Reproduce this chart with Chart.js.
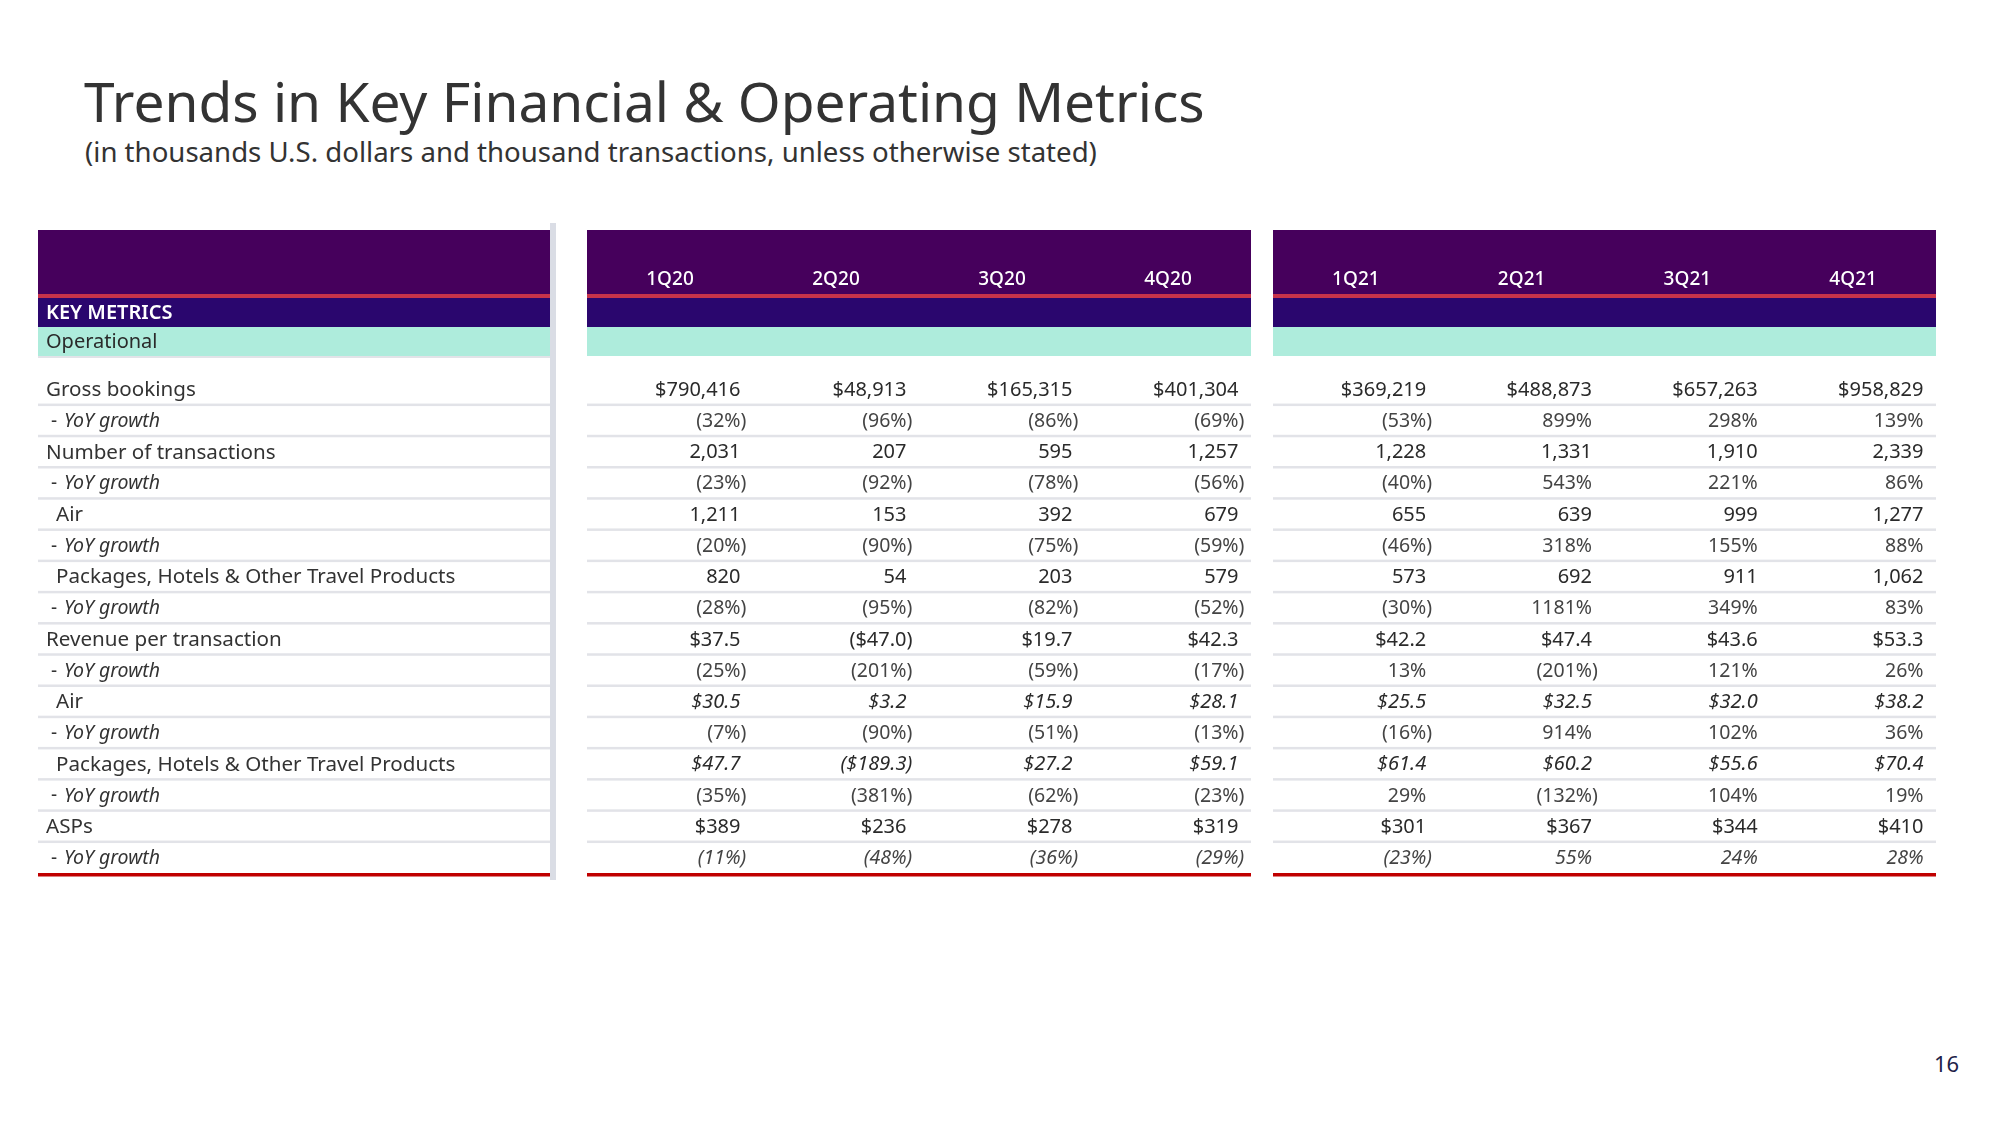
<!DOCTYPE html>
<html lang="en">
<head>
    <meta charset="UTF-8">
    <title>Trends in Key Financial &amp; Operating Metrics</title>
    <style>
        body {
            margin: 0;
            width: 2000px;
            height: 1125px;
            position: relative;
            overflow: hidden;
            background: #fff;
            font-family: "Noto Sans", Arial, sans-serif;
            color: #333;
        }
        h1 {
            position: absolute;
            left: 84px;
            top: 74px;
            margin: 0;
            font-size: 55px;
            line-height: 54px;
            font-weight: 400;
            color: #333;
            white-space: nowrap;
        }
        .subtitle {
            position: absolute;
            left: 85px;
            top: 137px;
            font-size: 27.6px;
            line-height: 28px;
            color: #333;
            white-space: nowrap;
        }
        .page-num {
            position: absolute;
            left: 1934px;
            top: 1050px;
            font-size: 22px;
            line-height: 26px;
            color: #1f1f4a;
        }
        canvas {
            position: absolute;
            top: 220px;
        }
    </style>
</head>
<body>
    <h1>Trends in Key Financial &amp; Operating Metrics</h1>
    <div class="subtitle">(in thousands U.S. dollars and thousand transactions, unless otherwise stated)</div>

    <canvas id="labelPanel" width="520" height="665" style="left:38px"></canvas>
    <canvas id="panel2020" width="664" height="665" style="left:587px"></canvas>
    <canvas id="panel2021" width="663" height="665" style="left:1273px"></canvas>

    <div class="page-num">16</div>

    <script src="https://cdn.jsdelivr.net/npm/chart.js"></script>
    <script>
        // table data
        const quarters2020 = ['1Q20', '2Q20', '3Q20', '4Q20'];
        const quarters2021 = ['1Q21', '2Q21', '3Q21', '4Q21'];

        const rowLabels = [
            'Gross bookings', '- YoY growth',
            'Number of transactions', '- YoY growth',
            'Air', '- YoY growth',
            'Packages, Hotels & Other Travel Products', '- YoY growth',
            'Revenue per transaction', '- YoY growth',
            'Air', '- YoY growth',
            'Packages, Hotels & Other Travel Products', '- YoY growth',
            'ASPs', '- YoY growth'
        ];

        // 1Q20 .. 4Q21
        const grossBookings = [790416, 48913, 165315, 401304, 369219, 488873, 657263, 958829];
        const grossBookingsYoY = [-32, -96, -86, -69, -53, 899, 298, 139];
        const transactions = [2031, 207, 595, 1257, 1228, 1331, 1910, 2339];
        const transactionsYoY = [-23, -92, -78, -56, -40, 543, 221, 86];
        const airTransactions = [1211, 153, 392, 679, 655, 639, 999, 1277];
        const airTransactionsYoY = [-20, -90, -75, -59, -46, 318, 155, 88];
        const packageTransactions = [820, 54, 203, 579, 573, 692, 911, 1062];
        const packageTransactionsYoY = [-28, -95, -82, -52, -30, 1181, 349, 83];
        const revenuePerTx = [37.5, -47.0, 19.7, 42.3, 42.2, 47.4, 43.6, 53.3];
        const revenuePerTxYoY = [-25, -201, -59, -17, 13, -201, 121, 26];
        const airRevenuePerTx = [30.5, 3.2, 15.9, 28.1, 25.5, 32.5, 32.0, 38.2];
        const airRevenuePerTxYoY = [-7, -90, -51, -13, -16, 914, 102, 36];
        const packageRevenuePerTx = [47.7, -189.3, 27.2, 59.1, 61.4, 60.2, 55.6, 70.4];
        const packageRevenuePerTxYoY = [-35, -381, -62, -23, 29, -132, 104, 19];
        const asps = [389, 236, 278, 319, 301, 367, 344, 410];
        const aspsYoY = [-11, -48, -36, -29, -23, 55, 24, 28];

        const rowSeries = [
            grossBookings, grossBookingsYoY,
            transactions, transactionsYoY,
            airTransactions, airTransactionsYoY,
            packageTransactions, packageTransactionsYoY,
            revenuePerTx, revenuePerTxYoY,
            airRevenuePerTx, airRevenuePerTxYoY,
            packageRevenuePerTx, packageRevenuePerTxYoY,
            asps, aspsYoY
        ];
        const rowFormats = ['usd', 'pct', 'int', 'pct', 'int', 'pct', 'int', 'pct',
                            'usd1', 'pct', 'usd1', 'pct', 'usd1', 'pct', 'usd', 'pct'];

        // styling
        const FONT = '"Noto Sans", Arial, sans-serif';
        const PURPLE = '#46005c';
        const RED_TOP = '#c8334a';
        const NAVY = '#2a066e';
        const TEAL = '#aeecdc';
        const LINE = '#e2e3e8';
        const RED_BOTTOM = '#c00000';
        const indented = new Set(['Air', 'Packages, Hotels & Other Travel Products']);
        const italicRows = new Set([10, 12, 15]);

        function fmt(v, kind) {
            const a = Math.abs(v);
            let s;
            if (kind === 'usd') s = '$' + a.toLocaleString('en-US');
            else if (kind === 'usd1') s = '$' + a.toFixed(1);
            else if (kind === 'int') s = a.toLocaleString('en-US');
            else s = a + '%';
            return v < 0 ? '(' + s + ')' : s;
        }

        function bandCenter(ys, i) {
            const top = ys.getPixelForValue(Math.max(i - 0.5, ys.min));
            const bottom = ys.getPixelForValue(i + 0.5);
            return (top + bottom) / 2;
        }

        const tablePlugin = {
            id: 'table',
            beforeDraw(chart) {
                const ctx = chart.ctx;
                const ca = chart.chartArea;
                const opts = chart.options.plugins.table;
                const top = ca.top - 128;
                ctx.save();
                ctx.fillStyle = PURPLE;
                ctx.fillRect(ca.left, top, ca.width, 64);
                ctx.fillStyle = RED_TOP;
                ctx.fillRect(ca.left, top + 64, ca.width, 4);
                ctx.fillStyle = NAVY;
                ctx.fillRect(ca.left, top + 68, ca.width, 29);
                ctx.fillStyle = TEAL;
                ctx.fillRect(ca.left, top + 97, ca.width, 29);
                if (opts.labels) {
                    ctx.fillStyle = LINE;
                    ctx.fillRect(ca.left, top + 126, ca.width, 2);
                    // divider bar on the right of the label column
                    ctx.fillStyle = '#dadde5';
                    ctx.fillRect(ca.right, top - 7, 6, ca.bottom - top + 14);
                }
                ctx.restore();
            },
            afterDraw(chart) {
                const ctx = chart.ctx;
                const ca = chart.chartArea;
                const xs = chart.scales.x;
                const ys = chart.scales.y;
                const opts = chart.options.plugins.table;
                const top = ca.top - 128;
                ctx.save();

                // row separators
                for (let i = 0; i < rowLabels.length - 1; i++) {
                    const y = ys.getPixelForValue(i + 0.5);
                    ctx.fillStyle = LINE;
                    ctx.fillRect(ca.left, y - 1.25, ca.width, 2.5);
                }
                ctx.fillStyle = RED_BOTTOM;
                ctx.fillRect(ca.left, ys.getPixelForValue(rowLabels.length - 0.5), ca.width, 3.5);

                ctx.textBaseline = 'middle';
                if (opts.labels) {
                    ctx.fillStyle = '#fff';
                    ctx.font = '600 20px ' + FONT;
                    ctx.fillText('KEY METRICS', ca.left + 8, top + 83);
                    ctx.fillStyle = '#2a2a2a';
                    ctx.font = '20px ' + FONT;
                    ctx.fillText('Operational', ca.left + 8, top + 112);

                    rowLabels.forEach((label, i) => {
                        const y = bandCenter(ys, i) + 1;
                        ctx.fillStyle = '#333';
                        if (label.startsWith('- ')) {
                            ctx.font = '19px ' + FONT;
                            ctx.fillText('-', ca.left + 13, y);
                            ctx.font = 'italic 19.5px ' + FONT;
                            ctx.fillText(label.slice(2), ca.left + 26, y);
                        } else {
                            ctx.font = '20.6px ' + FONT;
                            ctx.fillText(label, ca.left + (indented.has(label) ? 18 : 8), y);
                        }
                    });
                } else {
                    const band = xs.width / xs.getLabels().length;
                    // quarter headers
                    ctx.fillStyle = '#fff';
                    ctx.font = '500 19px ' + FONT;
                    ctx.textAlign = 'center';
                    xs.getLabels().forEach((q, c) => {
                        ctx.fillText(q, xs.getPixelForValue(c), top + 50);
                    });

                    ctx.textAlign = 'right';
                    rowSeries.forEach((series, r) => {
                        const y = bandCenter(ys, r) + 1;
                        const pct = rowFormats[r] === 'pct';
                        const style = italicRows.has(r) ? 'italic ' : '';
                        ctx.font = style + (pct ? '19.5px ' : '20px ') + FONT;
                        ctx.fillStyle = pct ? '#444' : '#2a2a2a';
                        xs.getLabels().forEach((q, c) => {
                            const text = fmt(series[opts.offset + c], rowFormats[r]);
                            const right = xs.getPixelForValue(c) + band / 2 - 12.5;
                            const hang = text.endsWith(')') ? ctx.measureText(')').width : 0;
                            ctx.fillText(text, right + hang, y);
                        });
                    });
                }
                ctx.restore();
            }
        };

        function makePanel(id, labels, tableOpts) {
            return new Chart(document.getElementById(id), {
                type: 'bar',
                data: { labels: labels, datasets: [] },
                options: {
                    responsive: false,
                    animation: false,
                    events: [],
                    layout: { padding: { top: 138, bottom: 12, left: 0, right: tableOpts.labels ? 8 : 0 } },
                    plugins: {
                        legend: { display: false },
                        tooltip: { enabled: false },
                        table: tableOpts
                    },
                    scales: {
                        x: { type: 'category', display: false, offset: true },
                        y: {
                            type: 'linear', display: false, reverse: true,
                            min: -1, max: rowLabels.length - 0.5
                        }
                    }
                },
                plugins: [tablePlugin]
            });
        }

        makePanel('labelPanel', ['Metric'], { labels: true });
        makePanel('panel2020', quarters2020, { offset: 0 });
        makePanel('panel2021', quarters2021, { offset: 4 });
    </script>
</body>
</html>
